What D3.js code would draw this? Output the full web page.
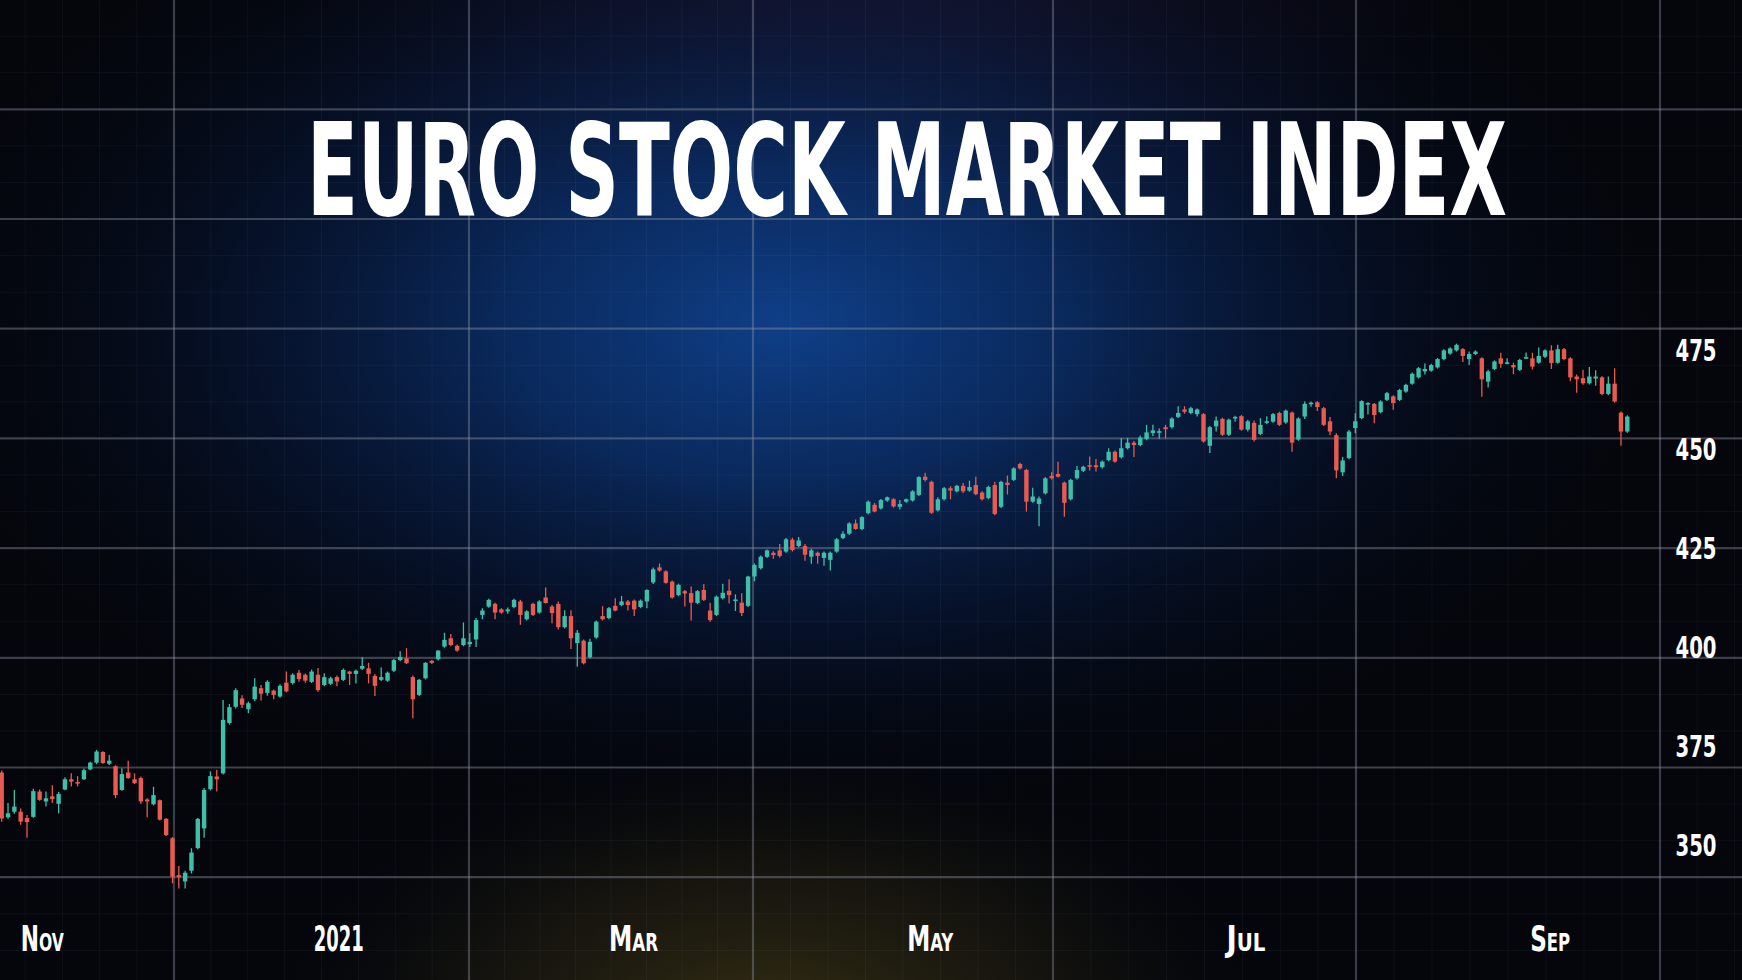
<!DOCTYPE html>
<html><head><meta charset="utf-8">
<script src="https://cdn.jsdelivr.net/npm/d3@7"></script>
<style>html,body{margin:0;padding:0;background:#04060c;overflow:hidden}</style>
</head><body>
<svg id="chart" width="1742" height="980"></svg>
<script>
// ---------------- DATA ----------------
const chartTitle = "EURO STOCK MARKET INDEX";
const yTicks = [350, 375, 400, 425, 450, 475];
const xTickLabels = ["Nov", "2021", "Mar", "May", "Jul", "Sep"];
const xTickAt = [6.4, 53.3, 99.9, 146.8, 196.7, 244.8]; // candle index at which each label sits

const open = [368.3,357.0,358.4,358.4,356.8,357.1,363.5,361.0,362.3,360.4,364.0,366.6,365.9,366.6,369.1,370.8,373.5,370.5,369.9,363.9,368.3,366.6,366.9,361.5,360.3,361.3,356.6,351.7,342.4,340.8,343.5,349.2,354.2,364.1,367.3,368.1,
380.8,384.9,387.0,384.3,386.8,389.6,388.4,389.0,387.5,391.0,390.9,393.5,393.0,391.2,393.0,390.4,390.7,392.4,391.7,393.8,393.2,394.5,394.6,392.7,391.7,391.5,394.0,396.7,397.1,392.4,387.9,392.1,396.5,396.9,400.1,
402.2,400.3,400.5,400.7,401.9,408.1,410.2,410.9,409.5,409.0,410.1,411.5,407.0,410.9,408.7,412.5,410.2,410.9,405.0,407.8,401.0,401.6,397.4,402.4,407.8,407.3,410.4,410.6,411.5,411.7,410.1,411.5,416.3,420.1,419.1,416.5,413.1,414.1,413.6,411.1,
414.4,409.2,408.1,412.3,414.2,411.7,411.2,410.4,417.8,419.9,422.8,423.8,424.4,424.1,427.1,425.5,425.5,422.8,423.8,422.5,422.0,424.1,427.5,428.6,431.2,429.8,433.8,435.9,435.0,437.0,437.3,
435.4,436.7,437.0,438.4,443.0,441.7,434.5,437.3,440.1,439.3,440.7,439.5,440.9,439.0,437.6,440.9,435.4,441.5,442.2,446.2,444.7,436.7,436.1,438.8,443.2,443.7,441.5,437.3,442.6,444.5,445.9,445.9,445.4,447.2,449.3,447.9,450.2,451.6,451.0,452.5,
454.0,454.2,455.5,455.5,458.1,460.0,459.1,458.8,458.8,450.8,455.7,457.6,453.6,457.9,458.3,454.9,456.6,453.8,456.6,456.9,459.1,456.7,459.2,452.4,458.2,461.4,461.8,460.3,457.0,453.5,444.1,447.7,455.3,457.8,461.2,461.4,459.3,462.4,463.3,462.4,
464.5,466.5,468.1,469.6,469.8,470.6,472.7,474.1,474.9,475.2,472.7,474.0,472.9,467.0,470.2,472.9,471.7,471.2,470.0,473.0,472.9,471.8,473.3,474.9,471.8,475.2,472.9,468.3,467.9,466.6,467.8,468.1,463.9,466.5,459.2,454.4];

const high = [368.8,360.6,363.9,359.2,357.6,364.2,364.0,363.5,365.1,363.4,367.1,368.1,367.4,369.3,371.0,374.0,373.7,372.7,370.1,369.4,371.3,368.1,367.3,361.8,364.7,361.5,356.8,352.0,344.7,343.5,349.2,356.8,364.4,368.6,369.0,386.6,
385.6,389.6,387.8,386.2,392.1,390.4,391.6,389.2,390.6,393.8,393.4,394.2,393.3,394.3,394.7,393.4,392.5,392.8,394.6,394.0,394.3,397.5,396.0,393.2,394.8,393.8,397.0,398.9,399.7,392.8,391.9,396.2,396.7,399.2,403.6,
403.3,400.6,406.2,403.5,407.3,409.8,412.2,411.2,409.8,410.0,412.2,411.9,409.3,411.2,411.8,415.0,410.6,411.5,409.3,409.3,404.3,401.9,402.1,406.7,410.3,410.1,412.3,412.9,411.9,412.0,412.0,414.6,420.1,421.1,419.4,416.8,416.0,414.4,415.3,414.4,
415.9,411.2,413.0,416.0,417.1,413.3,413.6,418.0,421.1,423.1,424.6,424.2,426.0,427.5,427.6,427.8,426.0,424.8,424.1,424.1,424.1,427.5,429.2,431.5,432.2,433.0,437.0,436.4,437.4,438.0,437.6,
437.1,437.5,439.6,443.1,444.0,442.0,437.8,440.4,440.6,441.0,441.4,442.0,443.0,439.3,440.7,441.7,442.0,443.3,445.4,446.5,445.0,440.2,438.0,442.9,444.1,446.8,441.8,442.5,445.7,445.8,448.1,447.5,447.1,450.2,449.6,452.8,452.8,452.0,453.4,456.1,
456.1,455.2,456.1,458.0,460.8,460.8,460.7,460.2,459.1,455.8,458.2,457.9,457.7,458.4,458.6,457.4,457.2,457.8,458.3,459.1,459.4,460.0,459.5,458.0,462.0,462.0,462.1,460.6,458.1,454.0,448.0,454.8,459.0,462.3,461.8,461.6,462.3,464.4,463.6,465.2,
466.5,469.3,470.7,471.6,471.5,473.0,475.2,475.7,476.6,475.5,474.6,474.9,473.2,470.0,472.4,474.3,472.9,471.8,472.8,474.4,474.3,475.6,475.2,476.2,476.3,475.5,473.2,468.8,470.0,470.7,469.9,468.4,468.3,470.4,459.5,458.5];

const low = [355.9,356.6,357.9,355.1,351.8,356.9,361.2,359.7,360.6,358.0,363.8,364.8,364.8,366.4,368.9,370.4,370.5,370.2,361.8,363.7,366.7,365.4,360.4,357.0,360.0,356.2,352.3,340.3,339.0,339.0,342.8,348.9,351.8,363.8,363.5,367.8,
380.4,384.5,384.6,383.3,386.3,386.5,387.7,386.8,387.2,388.6,390.5,391.2,391.0,390.9,388.7,390.1,390.4,390.1,391.4,390.4,390.8,394.2,390.8,387.6,391.4,391.2,393.7,396.4,395.7,382.0,387.6,391.8,395.7,396.6,399.8,
400.2,398.8,400.2,400.0,400.0,407.0,409.9,407.0,408.4,408.4,409.8,405.6,406.7,407.8,408.4,411.0,406.0,404.4,404.7,399.5,395.0,395.6,397.1,402.1,406.7,407.0,409.0,410.3,409.2,407.8,409.8,409.8,415.9,419.0,416.0,412.2,412.8,410.2,406.7,410.8,
411.6,406.4,407.8,412.0,411.0,409.1,407.8,410.1,416.6,419.6,422.5,422.3,422.6,423.8,424.1,425.2,421.8,421.0,421.0,420.5,419.3,423.8,427.2,428.3,429.6,429.5,433.5,434.0,434.7,436.7,435.2,
434.7,436.4,436.7,438.1,441.8,433.6,434.2,437.0,437.3,439.0,438.9,439.2,438.3,437.0,437.3,433.3,435.1,438.5,441.9,444.8,434.2,436.4,430.5,438.5,442.3,442.8,432.9,437.0,442.3,444.2,444.6,444.3,445.1,446.9,446.5,447.6,449.9,448.0,450.7,452.2,
453.3,452.6,452.6,455.2,457.8,458.9,458.8,458.2,451.6,449.0,454.4,453.3,453.3,456.9,454.6,454.4,451.9,453.5,456.3,456.6,455.8,456.4,449.3,452.1,457.6,460.7,459.6,455.8,453.5,442.6,443.2,447.4,454.0,457.5,458.7,456.5,459.0,462.1,459.9,462.1,
464.2,466.2,467.8,468.8,469.5,470.3,472.4,473.8,474.6,472.0,471.2,473.7,463.2,465.5,469.9,470.5,471.4,468.9,469.7,472.8,470.1,471.5,473.0,470.2,471.5,472.4,467.1,464.2,466.2,466.3,466.0,463.6,463.6,461.7,450.8,454.1];

const close = [356.7,358.0,359.7,355.9,355.8,363.6,361.4,361.8,361.6,362.9,366.6,366.0,365.5,368.9,370.8,373.6,370.7,371.3,362.6,367.9,366.9,365.6,361.0,361.0,362.6,356.4,352.5,342.0,341.9,343.0,348.1,356.6,363.9,367.4,366.6,381.6,
384.8,389.1,385.4,385.8,390.0,388.2,391.2,387.9,390.2,388.8,393.0,391.9,391.5,393.8,389.1,392.4,392.1,391.3,394.2,393.2,394.0,395.2,393.2,390.2,392.4,393.5,396.7,397.5,395.9,386.8,391.7,396.0,396.0,399.1,401.8,
400.5,399.1,402.2,401.3,406.8,409.2,411.9,408.7,408.7,409.5,411.9,408.1,409.0,408.1,411.5,411.1,408.6,405.0,407.8,402.2,403.6,395.9,401.3,406.4,407.0,409.8,409.2,411.5,410.6,409.5,411.7,414.4,419.6,419.3,416.2,412.5,415.7,413.5,411.2,414.1,
411.9,406.8,412.7,413.7,413.1,412.0,408.6,417.8,420.7,422.8,424.4,423.2,423.0,427.2,424.5,426.9,423.3,424.4,423.0,423.8,423.8,427.2,428.6,431.2,429.8,432.8,436.7,434.2,437.1,437.8,435.5,
436.1,437.3,439.3,442.9,442.2,433.9,437.3,440.1,439.5,440.7,439.3,440.4,438.6,437.3,440.4,433.6,441.7,440.9,445.1,445.1,436.7,438.0,437.5,442.6,442.6,443.0,436.4,442.2,444.7,445.5,445.5,445.4,446.8,449.3,446.8,450.2,451.6,451.0,452.9,454.2,
454.7,454.5,455.0,457.7,459.1,459.4,460.3,460.0,451.9,455.5,457.2,453.6,457.4,458.1,454.9,457.0,452.3,456.1,457.0,458.8,456.1,459.7,451.6,457.7,461.4,461.7,460.6,456.1,454.4,444.6,447.1,454.4,457.0,462.1,461.6,458.6,462.0,464.1,461.6,464.9,
466.2,469.0,470.4,470.2,471.2,472.7,474.9,475.4,476.3,473.5,474.0,474.6,467.6,469.6,472.1,471.5,471.9,470.6,472.5,473.2,470.8,473.5,474.9,471.7,475.2,472.7,468.1,467.6,466.6,468.3,468.3,463.9,466.5,462.0,454.4,458.2];

// ---------------- DRAWING ----------------
const W = 1742, H = 980;
const svg = d3.select("#chart");
const defs = svg.append("defs");

function radial(id, cx, cy, r, stops) {
  const g = defs.append("radialGradient").attr("id", id)
    .attr("cx", cx).attr("cy", cy).attr("r", r);
  stops.forEach(s => g.append("stop").attr("offset", s[0]).attr("stop-color", s[1]).attr("stop-opacity", s[2]));
}
radial("blueGlow", 0.45, 0.33, 0.52, [[0, "#0f3f88", 1], [0.3, "#0b306c", 0.85], [0.62, "#081a40", 0.5], [1, "#04060c", 0]]);
radial("topGlow", 0.5, -0.05, 0.35, [[0, "#2a1838", 0.7], [1, "#1a1024", 0]]);
radial("botGlow", 0.44, 1.05, 0.28, [[0, "#5a4c18", 0.6], [0.6, "#3a3214", 0.3], [1, "#201c0c", 0]]);

svg.append("rect").attr("width", W).attr("height", H).attr("fill", "#04060c");
svg.append("rect").attr("width", W).attr("height", H).attr("fill", "url(#topGlow)");
svg.append("rect").attr("width", W).attr("height", H).attr("fill", "url(#blueGlow)");
svg.append("rect").attr("width", W).attr("height", H).attr("fill", "url(#botGlow)");

// background grid (decorative)
const majorY = d3.range(8).map(k => 109.3 + 109.7 * k);
const majorX = [174, 469, 753, 1053, 1356, 1660];
const minorY = d3.range(-3, 27).map(k => 109.3 + 36.57 * k);
const minorX = [];
for (let i = 0; i < majorX.length - 1; i++) {
  const step = (majorX[i + 1] - majorX[i]) / 8;
  for (let j = 1; j < 8; j++) minorX.push(majorX[i] + j * step);
}
for (let j = 1; j < 6; j++) minorX.push(majorX[0] - j * 37.2);
for (let j = 1; j < 3; j++) minorX.push(majorX[majorX.length - 1] + j * 37.2);

const grid = svg.append("g");
grid.selectAll(".mnh").data(minorY).join("line")
  .attr("x1", 0).attr("x2", W).attr("y1", d => d).attr("y2", d => d)
  .attr("stroke", "rgba(130,150,190,0.07)").attr("stroke-width", 1);
grid.selectAll(".mnv").data(minorX).join("line")
  .attr("y1", 0).attr("y2", H).attr("x1", d => d).attr("x2", d => d)
  .attr("stroke", "rgba(130,150,190,0.07)").attr("stroke-width", 1);
grid.selectAll(".mjh").data(majorY).join("line")
  .attr("x1", 0).attr("x2", W).attr("y1", d => d).attr("y2", d => d)
  .attr("stroke", "rgba(140,145,160,0.4)").attr("stroke-width", 2.2);
grid.selectAll(".mjv").data(majorX).join("line")
  .attr("y1", 0).attr("y2", H).attr("x1", d => d).attr("x2", d => d)
  .attr("stroke", "rgba(140,145,160,0.4)").attr("stroke-width", 2.2);

// scales
const n = open.length;
const x = d3.scaleLinear().domain([0, n - 1]).range([1.7, 1627.3]);
const y = d3.scaleLinear().domain([350, 475]).range([845, 350]);

const candles = d3.range(n).map(i => ({ i, o: open[i], h: high[i], l: low[i], c: close[i] }));
const UP = "#3dbfaa", DOWN = "#e95a50";
const bodyW = 4.4;

const cg = svg.append("g");
cg.selectAll(".wick").data(candles).join("line")
  .attr("x1", d => x(d.i)).attr("x2", d => x(d.i))
  .attr("y1", d => y(Math.max(d.h, d.o, d.c))).attr("y2", d => y(Math.min(d.l, d.o, d.c)))
  .attr("stroke", d => d.c >= d.o ? UP : DOWN).attr("stroke-width", 1.3);
cg.selectAll(".body").data(candles).join("rect")
  .attr("x", d => x(d.i) - bodyW / 2).attr("width", bodyW)
  .attr("y", d => y(Math.max(d.o, d.c)))
  .attr("height", d => Math.max(1.6, Math.abs(y(d.o) - y(d.c))))
  .attr("fill", d => d.c >= d.o ? UP : DOWN);

const FONT = "'DejaVu Sans Condensed','Liberation Sans Narrow','DejaVu Sans',sans-serif";

// title: squeeze horizontally with a transform to the target width
const titleG = svg.append("g");
const titleT = titleG.append("text")
  .attr("x", 0).attr("y", 0).attr("text-anchor", "middle")
  .attr("font-family", FONT).attr("font-weight", "bold").attr("font-stretch", "condensed")
  .attr("font-size", 128).attr("fill", "#ffffff")
  .text(chartTitle);
const natW = titleT.node().getComputedTextLength() || 1200;
titleG.attr("transform", `translate(907,215) scale(${1200 / natW},1)`);

// y axis labels
svg.append("g").selectAll("text").data(yTicks).join("text")
  .attr("x", 1696).attr("y", d => y(d) + 11).attr("text-anchor", "middle")
  .attr("textLength", 41).attr("lengthAdjust", "spacingAndGlyphs")
  .attr("font-family", FONT).attr("font-weight", "bold")
  .attr("font-size", 30).attr("fill", "#ffffff")
  .text(d => d);

// x axis labels
const xLabelWidth = { "Nov": 43, "2021": 50, "Mar": 49, "May": 46, "Jul": 39, "Sep": 40 };
svg.append("g").selectAll("text").data(xTickLabels.map((t, k) => ({ t, at: xTickAt[k] }))).join("text")
  .attr("x", d => x(d.at)).attr("y", 951).attr("text-anchor", "middle")
  .attr("textLength", d => xLabelWidth[d.t]).attr("lengthAdjust", "spacingAndGlyphs")
  .attr("font-family", FONT).attr("font-weight", "bold")
  .attr("font-variant", "small-caps")
  .attr("font-size", 35).attr("fill", "#ffffff")
  .text(d => d.t);
</script>
</body></html>
